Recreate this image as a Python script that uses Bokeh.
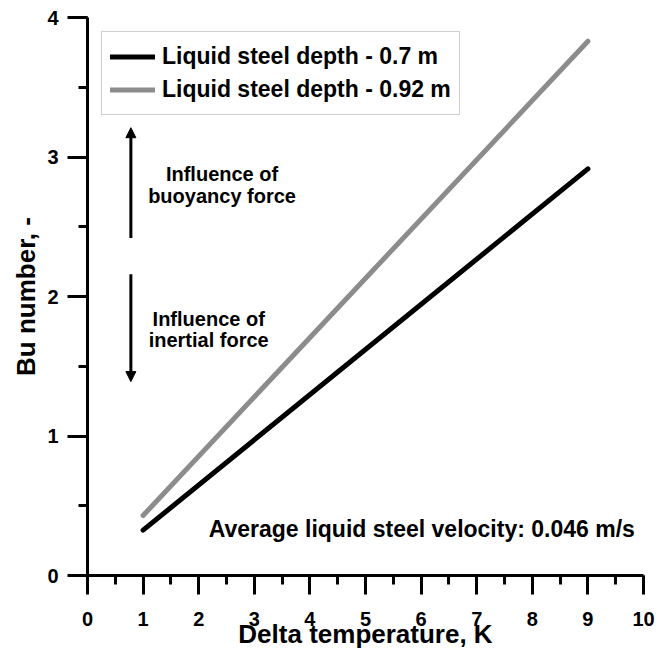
from bokeh.plotting import figure
from bokeh.models import Range1d, SingleIntervalTicker, Arrow, NormalHead, Label
from bokeh.embed import file_html
from bokeh.resources import INLINE

# ---- data ----
delta_t = [1, 9]
bu_depth_070 = [0.325, 2.915]
bu_depth_092 = [0.43, 3.83]
series_labels = ["Liquid steel depth - 0.7 m", "Liquid steel depth - 0.92 m"]

x_ticks = [0, 1, 2, 3, 4, 5, 6, 7, 8, 9, 10]
y_ticks = [0, 1, 2, 3, 4]

arrow_x = 0.78
arrow_up = (2.42, 3.21)
arrow_down = (2.16, 1.39)

FONT = "Liberation Sans"

p = figure(width=667, height=656, output_backend="svg", toolbar_location=None,
           x_range=Range1d(0, 10), y_range=Range1d(0, 4),
           min_border_left=87, min_border_right=24, min_border_top=17, min_border_bottom=81)
p.outline_line_color = None
p.grid.visible = False
p.background_fill_color = "white"

p.line(delta_t, bu_depth_070, line_color="black", line_width=5, line_cap="round",
       legend_label=series_labels[0])
p.line(delta_t, bu_depth_092, line_color="#8c8c8c", line_width=5, line_cap="round",
       legend_label=series_labels[1])

# axes
p.xaxis.ticker = SingleIntervalTicker(interval=1, num_minor_ticks=2)
p.yaxis.ticker = SingleIntervalTicker(interval=1, num_minor_ticks=2)
for ax in (p.xaxis, p.yaxis):
    ax.axis_line_width = 3
    ax.axis_line_color = "black"
    ax.major_tick_line_width = 3
    ax.minor_tick_line_width = 3
    ax.major_tick_line_color = "black"
    ax.minor_tick_line_color = "black"
    ax.major_tick_in = 0
    ax.minor_tick_in = 0
    ax.major_label_text_font = FONT
    ax.major_label_text_font_style = "bold"
    ax.major_label_text_font_size = "20px"
    ax.major_label_text_color = "black"
    ax.axis_label_text_font = FONT
    ax.axis_label_text_font_style = "bold"
    ax.axis_label_text_font_size = "26px"
    ax.axis_label_text_color = "black"

p.xaxis.major_tick_out = 19
p.xaxis.minor_tick_out = 9
p.xaxis.major_label_standoff = 17
p.xaxis.axis_label = "Delta temperature, K"
p.xaxis.axis_label_standoff = -10

p.yaxis.major_tick_out = 20
p.yaxis.minor_tick_out = 9
p.yaxis.major_label_standoff = 9
p.yaxis.axis_label = "Bu number, -"
p.yaxis.axis_label_standoff = 3

# arrows
for y0, y1 in (arrow_up, arrow_down):
    p.add_layout(Arrow(end=NormalHead(size=10, fill_color="black", line_color="black", line_width=1),
                       x_start=arrow_x, y_start=y0, x_end=arrow_x, y_end=y1,
                       line_width=3, line_color="black"))

def add_label(x, y, text, size="20px", align="center"):
    p.add_layout(Label(x=x, y=y, text=text, text_font=FONT, text_font_style="bold",
                       text_font_size=size, text_align=align, text_baseline="middle",
                       text_color="black"))

add_label(2.42, 2.88, "Influence of")
add_label(2.42, 2.72, "buoyancy force")
add_label(2.18, 1.84, "Influence of")
add_label(2.18, 1.69, "inertial force")
add_label(2.18, 0.33, "Average liquid steel velocity: 0.046 m/s", size="23px", align="left")

# legend
lg = p.legend[0]
lg.location = "top_left"
lg.margin = 14
lg.padding = 8
lg.spacing = 0
lg.label_height = 33
lg.glyph_height = 33
lg.glyph_width = 45
lg.label_standoff = 7
lg.label_text_font = FONT
lg.label_text_font_style = "bold"
lg.label_text_font_size = "23px"
lg.label_text_color = "black"
lg.border_line_color = "#a0a0a0"
lg.border_line_width = 1.5
lg.background_fill_alpha = 1

open("out.html", "w").write(file_html(p, INLINE))
